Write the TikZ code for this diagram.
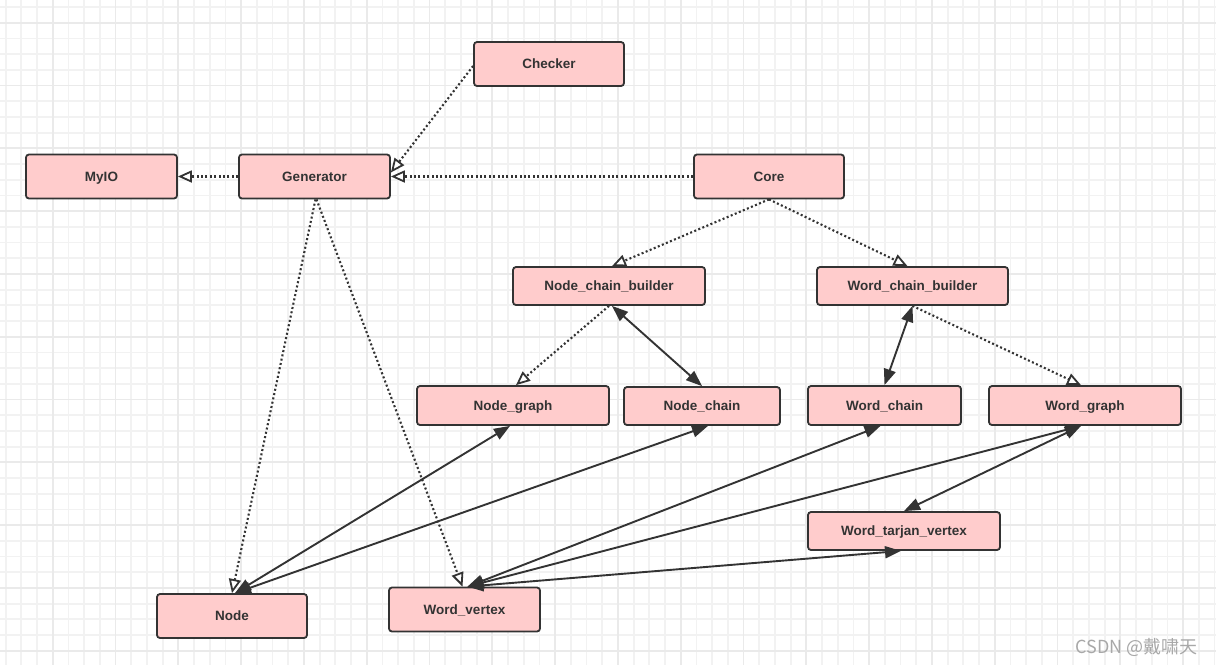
\documentclass[tikz,border=0pt]{standalone}
\usepackage{fontspec}
\setmainfont{Liberation Sans}
\newfontfamily\cjkfont{Noto Sans CJK SC}
\usetikzlibrary{arrows.meta}
\definecolor{boxfill}{HTML}{FFCCCC}
\definecolor{boxdraw}{HTML}{333333}
\definecolor{gridminor}{HTML}{F2F2F2}
\definecolor{gridmajor}{HTML}{EAEAEA}
\definecolor{wmark}{HTML}{A8A8A8}
\tikzset{
  box/.style={draw=boxdraw, fill=boxfill, line width=1.8pt, rounded corners=3pt,
    inner sep=0pt, minimum width=151pt, minimum height=44pt,
    text height=9.7pt, text depth=0pt,
    font=\fontsize{13.5}{15}\selectfont\bfseries, text=boxdraw},
  dep/.style={draw=boxdraw, line width=2.1pt, dash pattern=on 2pt off 2.4pt,
    -{Triangle[open, fill=white, length=14pt, width=12pt, line width=1.8pt]}},
  assoc/.style={draw=boxdraw, line width=1.9pt,
    {Triangle[length=16pt, width=12pt]}-{Triangle[length=16pt, width=12pt]}},
}
\begin{document}
\begin{tikzpicture}[x=1pt, y=-1pt]
\useasboundingbox (0,0) rectangle (1216,665);
\fill[white] (0,0) rectangle (1216,665);
% grid
\foreach \i in {0,...,77} {
  \draw[gridminor, line width=1.8pt] ({5.6+15.7*\i},0) -- ({5.6+15.7*\i},665);
}
\foreach \i in {0,...,42} {
  \draw[gridminor, line width=1.8pt] (0,{7+15.7*\i}) -- (1216,{7+15.7*\i});
}
\foreach \i in {0,...,19} {
  \draw[gridmajor, line width=1.8pt] ({52.7+62.8*\i},0) -- ({52.7+62.8*\i},665);
}
\foreach \i in {0,...,10} {
  \draw[gridmajor, line width=1.8pt] (0,{22.7+62.8*\i}) -- (1216,{22.7+62.8*\i});
}
% nodes
\node[box, minimum width=150pt] (checker) at (549,64) {Checker};
\node[box] (myio) at (101.5,176.5) {MyIO};
\node[box] (gen) at (314.5,176.5) {Generator};
\node[box, minimum width=150pt] (core) at (769,176.5) {Core};
\node[box, minimum width=192pt, minimum height=38pt] (ncb) at (609,286) {Node\_chain\_builder};
\node[box, minimum width=191pt, minimum height=38pt] (wcb) at (912.5,286) {Word\_chain\_builder};
\node[box, minimum width=192pt, minimum height=39pt] (ng) at (513,405.5) {Node\_graph};
\node[box, minimum width=156pt, minimum height=38pt] (nc) at (702,406) {Node\_chain};
\node[box, minimum width=153pt, minimum height=39pt] (wc) at (884.5,405.5) {Word\_chain};
\node[box, minimum width=192pt, minimum height=39pt] (wg) at (1085,405.5) {Word\_graph};
\node[box, minimum width=192pt, minimum height=38pt] (wtv) at (904,531) {Word\_tarjan\_vertex};
\node[box, minimum width=150pt] (node) at (232,616) {Node};
\node[box] (wv) at (464.5,609.5) {Word\_vertex};
% dependency edges (dotted)
\draw[dep] (gen.west) -- (myio.east);
\draw[dep] ([yshift=-2pt]checker.west) -- ([yshift=4pt]gen.east);
\draw[dep] (core.west) -- (gen.east);
\draw[dep] (core.south) -- ([xshift=3pt]ncb.north);
\draw[dep] (core.south) -- ([xshift=-5pt]wcb.north);
\draw[dep] (ncb.south) -- ([xshift=3pt]ng.north);
\draw[dep] (wcb.south) -- ([xshift=-4pt]wg.north);
\draw[dep] ([xshift=1pt]gen.south) -- (node.north);
\draw[dep] ([xshift=2pt]gen.south) -- ([xshift=-2pt]wv.north);
% association edges (solid)
\draw[assoc] ([xshift=3pt]ncb.south) -- (nc.north);
\draw[assoc] (wcb.south) -- (wc.north);
\draw[assoc] ([xshift=-3pt]ng.south) -- ([xshift=3pt]node.north);
\draw[assoc] ([xshift=6pt]nc.south) -- ([xshift=3pt]node.north);
\draw[assoc] ([xshift=-4pt]wc.south) -- ([xshift=3pt]wv.north);
\draw[assoc] ([xshift=-4pt]wg.south) -- ([xshift=3pt]wv.north);
\draw[assoc] ([xshift=-4pt]wg.south) -- (wtv.north);
\draw[assoc] ([xshift=-3pt]wtv.south) -- ([xshift=3pt]wv.north);
% watermark
\node[text=wmark, font=\cjkfont\fontsize{18}{20}\selectfont, anchor=east] (wm) at (1201,647) {CSDN @戴啸天};
\end{tikzpicture}
\end{document}
